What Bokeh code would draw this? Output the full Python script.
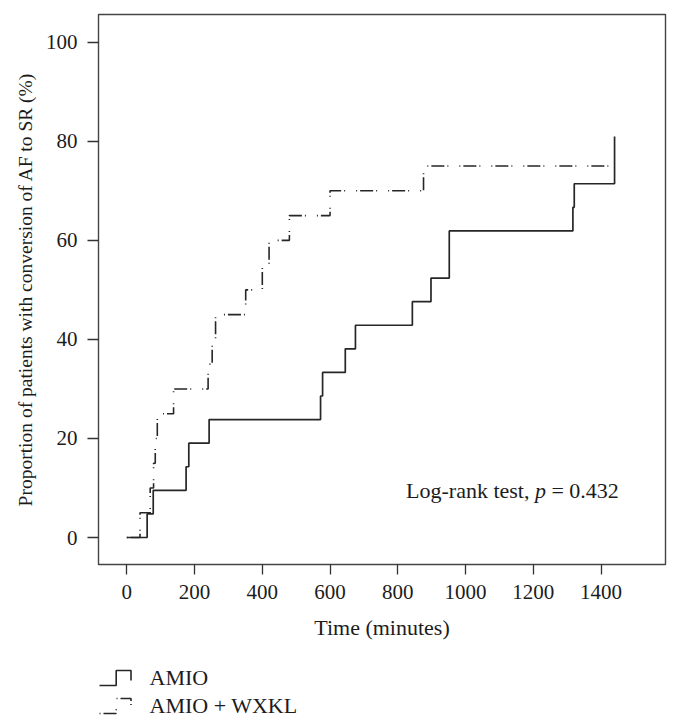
from bokeh.plotting import figure
from bokeh.models import Range1d, FixedTicker, Label
from bokeh.layouts import column
from bokeh.embed import file_html
from bokeh.resources import INLINE
from bokeh.core.properties import value

# ---- data (time in minutes, cumulative % converted) ----
amio_time = [0, 60, 78, 175, 183, 243, 572, 578, 645, 675, 843, 898, 952, 1317, 1321, 1440]
amio_pct = [0, 4.76, 9.52, 14.29, 19.05, 23.81, 28.57, 33.33, 38.10, 42.86, 47.62,
            52.38, 61.90, 66.67, 71.43, 80.95]
wxkl_time = [0, 39, 69, 79, 84, 90, 138, 240, 252, 262, 351, 400, 420, 480, 600, 876, 1440]
wxkl_pct = [0, 5, 10, 15, 20, 25, 30, 35, 40, 45, 50, 55, 60, 65, 70, 75, 75]
x_ticks = [0, 200, 400, 600, 800, 1000, 1200, 1400]
y_ticks = [0, 20, 40, 60, 80, 100]
series_names = ["AMIO", "AMIO + WXKL"]
test_text = "Log-rank test,"
p_symbol = "p"
p_text = "= 0.432"

# ---- style ----
FONT = "Liberation Serif"
INK = "#1c1c1c"
LINE = "#262626"
DASH = "1 3 13 3 1 11"

W = 679
H_MAIN = 645
H_LEG = 73
BL, BR = 98, 14

p = figure(width=W, height=H_MAIN,
           x_range=Range1d(-83.6, 1590.4), y_range=Range1d(-5.45, 105.6),
           output_backend="svg", toolbar_location=None,
           min_border_left=BL, min_border_right=BR, min_border_top=14, min_border_bottom=81)
p.xgrid.visible = False
p.ygrid.visible = False
p.outline_line_color = "#444444"
p.outline_line_width = 1.4
p.background_fill_color = "white"
p.border_fill_color = "white"

for ax, ticks, tout, stand in ((p.xaxis, x_ticks, 10, 10), (p.yaxis, y_ticks, 11, 10)):
    ax.ticker = FixedTicker(ticks=ticks)
    ax.axis_line_color = None
    ax.major_tick_out = tout
    ax.major_tick_in = 0
    ax.minor_tick_line_color = None
    ax.major_tick_line_color = "#333333"
    ax.major_tick_line_width = 1.3
    ax.major_label_text_font = FONT
    ax.major_label_text_font_size = "21px"
    ax.major_label_text_color = INK
    ax.major_label_standoff = stand
    ax.axis_label_text_font = FONT
    ax.axis_label_text_font_style = "normal"
    ax.axis_label_text_color = INK

p.xaxis.axis_label = "Time (minutes)"
p.xaxis.axis_label_text_font_size = "22px"
p.xaxis.axis_label_standoff = 13
p.yaxis.axis_label = "Proportion of patients with conversion of AF to SR (%)"
p.yaxis.axis_label_text_font_size = "19.5px"
p.yaxis.axis_label_standoff = 7

p.step(amio_time, amio_pct, mode="after", line_color=LINE, line_width=1.7)
p.step(wxkl_time, wxkl_pct, mode="after", line_color=LINE, line_width=1.6, line_dash=DASH)

# annotation (anchored in data space near lower right)
ax_x, ax_y = 1205.0, 9.5
AFS = "22px"
p.add_layout(Label(x=ax_x, y=ax_y, x_offset=-5.5, text=test_text, text_align="right",
                   text_baseline="middle", text_font=FONT, text_font_size=AFS, text_color=INK))
p.add_layout(Label(x=ax_x, y=ax_y, x_offset=0, text=p_symbol, text_align="left",
                   text_baseline="middle", text_font=FONT, text_font_style="italic",
                   text_font_size=AFS, text_color=INK))
p.add_layout(Label(x=ax_x, y=ax_y, x_offset=16.5, text=p_text, text_align="left",
                   text_baseline="middle", text_font=FONT, text_font_size=AFS, text_color=INK))

# ---- legend panel (x in page pixels, aligned with the plot frame) ----
q = figure(width=W, height=H_LEG, x_range=Range1d(BL, W - BR), y_range=Range1d(H_LEG, 0),
           output_backend="svg", toolbar_location=None,
           min_border_left=BL, min_border_right=BR, min_border_top=0, min_border_bottom=0)
q.axis.visible = False
q.xgrid.visible = False
q.ygrid.visible = False
q.outline_line_color = None
q.border_fill_color = "white"
q.background_fill_color = "white"

row_y = [32, 60]
sym_x0, sym_x1, sym_x2 = 99.0, 115.7, 130.5
for name, ry, dash in zip(series_names, row_y, ["solid", DASH]):
    xs = [sym_x0, sym_x1, sym_x1, sym_x2, sym_x2]
    ys = [ry + 8, ry + 8, ry - 7, ry - 7, ry + 3]
    q.line(xs, ys, line_color=LINE, line_width=1.6, line_dash=dash)
    q.text(x=[149], y=[ry], text=[name], text_font=value(FONT), text_font_size="22px",
           text_baseline="middle", text_align="left", text_color=INK)

layout = column(p, q)
open("out.html", "w").write(file_html(layout, INLINE))
